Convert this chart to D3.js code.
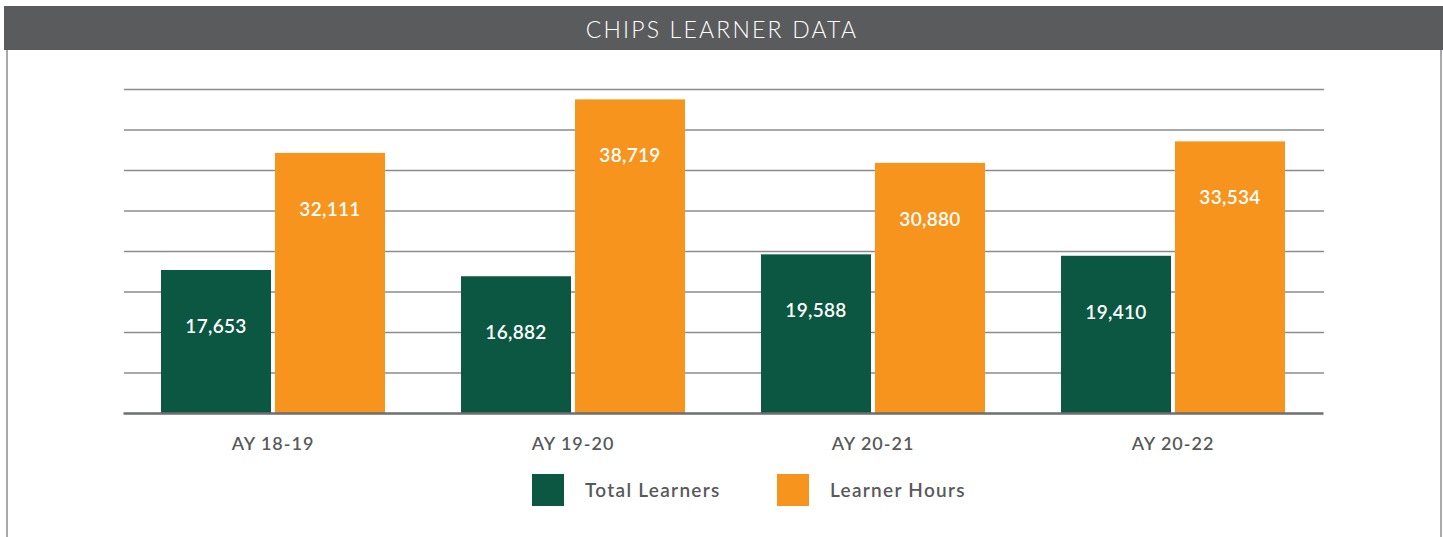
<!DOCTYPE html>
<html>
<head>
<meta charset="utf-8">
<script src="https://cdn.jsdelivr.net/npm/d3@7"></script>
<style>
  body { margin: 0; background: #fff; }
  svg { display: block; font-family: Lato, "Open Sans", sans-serif; }
</style>
</head>
<body>
<svg id="chart"></svg>
<script>
// chart data
const categories = ['AY 18-19', 'AY 19-20', 'AY 20-21', 'AY 20-22'];
const seriesNames = ['Total Learners', 'Learner Hours'];
const totalLearners = [17653, 16882, 19588, 19410];
const learnerHours = [32111, 38719, 30880, 33534];
const colors = ['#0b5741', '#f7941e'];

const width = 1443, height = 537;
const margin = { left: 124, right: 119, top: 89, bottom: 124 };

let svg = d3.select('#chart')
    .attr('width', width)
    .attr('height', height);

// frame + title bar
svg.append('rect')
    .attr('x', 4).attr('y', 6)
    .attr('width', width - 4).attr('height', 44)
    .attr('fill', '#5a5b5d');
svg.append('text')
    .attr('x', 722).attr('y', 38)
    .attr('text-anchor', 'middle')
    .attr('fill', '#fff')
    .attr('font-size', 23)
    .attr('font-weight', 300)
    .attr('letter-spacing', 2.2)
    .text('CHIPS LEARNER DATA');
svg.append('line')
    .attr('x1', 7).attr('x2', 7).attr('y1', 50).attr('y2', height)
    .attr('stroke', '#a7a9ac').attr('stroke-width', 2);
svg.append('line')
    .attr('x1', 1441).attr('x2', 1441).attr('y1', 50).attr('y2', height)
    .attr('stroke', '#a7a9ac').attr('stroke-width', 2);

let x0 = d3.scaleBand()
    .domain(categories)
    .range([margin.left, width - margin.right])
    .paddingInner(0)
    .paddingOuter(0);

let yScale = d3.scaleLinear()
    .domain([0, 40000])
    .range([height - margin.bottom, margin.top]);

// gridlines
let grid = d3.axisLeft(yScale)
    .tickValues(d3.range(5000, 40001, 5000))
    .tickSize(-(width - margin.left - margin.right))
    .tickFormat('');
let gridG = svg.append('g')
    .attr('transform', `translate(${margin.left}, 0)`)
    .call(grid);
gridG.select('.domain').remove();
gridG.selectAll('line').attr('stroke', '#8a8b8d').attr('stroke-width', 1.5);

// bars
const barW = 110, gap = 4;
let groups = svg.append('g').selectAll('g')
    .data(categories)
    .join('g')
    .attr('transform', d => `translate(${x0(d) + x0.bandwidth() / 2 - 1}, 0)`);

[totalLearners, learnerHours].forEach((vals, si) => {
    let xOff = si === 0 ? -barW - gap / 2 : gap / 2;
    groups.append('rect')
        .attr('x', xOff)
        .attr('y', (d, i) => yScale(vals[i]))
        .attr('width', barW)
        .attr('height', (d, i) => yScale(0) - yScale(vals[i]))
        .attr('fill', colors[si]);
    groups.append('text')
        .attr('x', xOff + barW / 2)
        .attr('y', (d, i) => yScale(vals[i]) + 63)
        .attr('text-anchor', 'middle')
        .attr('fill', '#fff')
        .attr('font-size', 19)
        .attr('font-weight', 600)
        .attr('letter-spacing', 0.3)
        .text((d, i) => d3.format(',')(vals[i]));
});

// baseline + category labels
let xAxis = d3.axisBottom(x0).tickSize(0).tickPadding(24);
let xG = svg.append('g')
    .attr('transform', `translate(-1, ${yScale(0)})`)
    .call(xAxis);
xG.select('.domain').attr('stroke', '#6d6e71').attr('stroke-width', 2.5);
xG.selectAll('text')
    .attr('fill', '#58595b')
    .attr('font-size', 18)
    .attr('font-weight', 600)
    .attr('letter-spacing', 1)
    .attr('font-family', 'Lato, "Open Sans", sans-serif');

// legend
const legendX = [532, 777];
let legend = svg.append('g').selectAll('g')
    .data(seriesNames)
    .join('g')
    .attr('transform', (d, i) => `translate(${legendX[i]}, 474)`);
legend.append('rect')
    .attr('width', 32).attr('height', 32)
    .attr('fill', (d, i) => colors[i]);
legend.append('text')
    .attr('x', 53).attr('y', 23)
    .attr('fill', '#58595b')
    .attr('font-size', 19)
    .attr('font-weight', 600)
    .attr('letter-spacing', 1.3)
    .text(d => d);
</script>
</body>
</html>
